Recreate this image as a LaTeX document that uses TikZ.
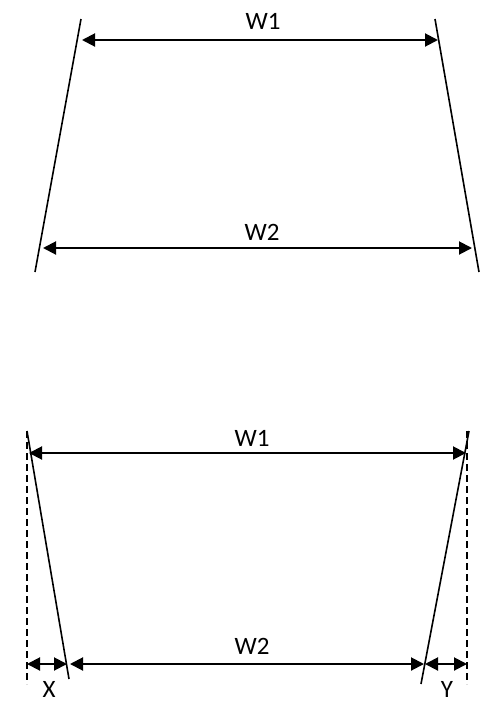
\documentclass[tikz,border=0pt]{standalone}
\usepackage{fontspec}
\setmainfont{Carlito}
\usetikzlibrary{arrows.meta}
\begin{document}
\begin{tikzpicture}[x=1pt,y=-1pt,
  edge/.style={line width=1.6pt},
  dim/.style={line width=2pt,{Triangle[length=13pt,width=13pt]}-{Triangle[length=13pt,width=13pt]}},
  guide/.style={line width=1.6pt,dash pattern=on 7pt off 4pt},
  lbl/.style={font=\fontsize{25}{27}\selectfont,inner sep=0pt}]
\useasboundingbox (0,0) rectangle (494,702);
% top figure
\coordinate (tl1) at (81,19);
\coordinate (tl2) at (35,272);
\coordinate (tr1) at (435,19);
\coordinate (tr2) at (479,272);
\draw[edge] (tl1) -- (tl2);
\draw[edge] (tr1) -- (tr2);
\coordinate (a1) at (82,40);
\coordinate (a2) at (438,40);
\coordinate (b1) at (43,248);
\coordinate (b2) at (472,248);
\draw[dim] (a1) -- (a2);
\draw[dim] (b1) -- (b2);
\node[lbl] (w1t) at (263,21) {W1};
\node[lbl] (w2t) at (262,232) {W2};
% bottom figure
\coordinate (dl1) at (27,431);
\coordinate (dl2) at (27,684);
\coordinate (dr1) at (467,431);
\coordinate (dr2) at (467,684);
\draw[guide] (dl1) -- (dl2);
\draw[guide] (dr1) -- (dr2);
\coordinate (sl1) at (27,431);
\coordinate (sl2) at (69,679);
\coordinate (sr1) at (469,431);
\coordinate (sr2) at (421,684);
\draw[edge] (sl1) -- (sl2);
\draw[edge] (sr1) -- (sr2);
\coordinate (c1) at (29,453);
\coordinate (c2) at (466,453);
\draw[dim] (c1) -- (c2);
\coordinate (x1) at (27,664);
\coordinate (x2) at (67,664);
\coordinate (m1) at (70,664);
\coordinate (m2) at (424,664);
\coordinate (y1) at (425,664);
\coordinate (y2) at (467,664);
\draw[dim] (x1) -- (x2);
\draw[dim] (m1) -- (m2);
\draw[dim] (y1) -- (y2);
\node[lbl] (w1b) at (252,438) {W1};
\node[lbl] (w2b) at (252,646) {W2};
\node[lbl] (xl) at (49,689) {X};
\node[lbl] (yl) at (447,689) {Y};
\end{tikzpicture}
\end{document}
